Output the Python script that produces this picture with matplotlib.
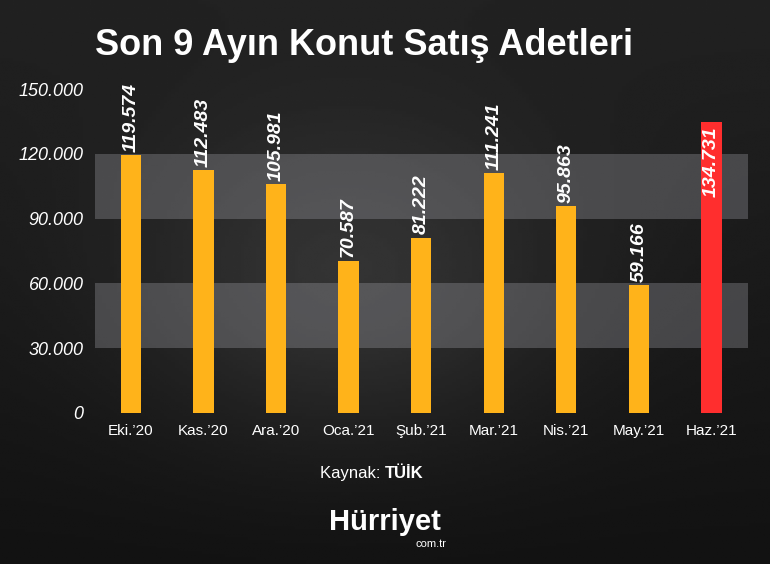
import matplotlib
matplotlib.use("Agg")
import matplotlib.pyplot as plt
import numpy as np

plt.rcParams['font.family'] = ['Liberation Sans', 'DejaVu Sans']

months = ["Eki.’20", "Kas.’20", "Ara.’20", "Oca.’21", "Şub.’21", "Mar.’21", "Nis.’21", "May.’21", "Haz.’21"]
values = [119574, 112483, 105981, 70587, 81222, 111241, 95863, 59166, 134731]
labels = ["119.574", "112.483", "105.981", "70.587", "81.222", "111.241", "95.863", "59.166", "134.731"]
yticks = [0, 30000, 60000, 90000, 120000, 150000]
yticklabels = ["0", "30.000", "60.000", "90.000", "120.000", "150.000"]

fig = plt.figure(figsize=(7.7, 5.64), dpi=100)
bg = fig.add_axes([0, 0, 1, 1])
xx, yy = np.meshgrid(np.linspace(0, 1, 200), np.linspace(0, 1, 200))
grad = 0.13 + 0.10 * np.exp(-((xx - 0.45) ** 2 + (yy - 0.5) ** 2) / 0.08) - 0.06 * yy
bg.imshow(grad, cmap="gray", vmin=0, vmax=1, extent=[0, 1, 0, 1], aspect="auto", origin="upper")
bg.axis("off")

ax = fig.add_axes([0.123, 0.268, 0.848, 0.574])
ax.patch.set_alpha(0)
x = np.arange(len(months))
ax.set_xlim(-0.5, 8.5)
ax.set_ylim(0, 150000)
for lo, hi in [(30000, 60000), (90000, 120000)]:
    ax.axhspan(lo, hi, color="#9a9aa0", alpha=0.35, lw=0, zorder=0)
colors = ["#FFB31A"] * 8 + ["#FF2E2E"]
ax.bar(x, values, width=0.28, color=colors, zorder=2)
for i, (xi, v, l) in enumerate(zip(x, values, labels)):
    inside = i == len(values) - 1
    ax.text(xi, v - 2000 if inside else v + 1500, l, rotation=90, ha="center",
            va="top" if inside else "bottom", color="white",
            fontsize=14, fontweight="bold", fontstyle="italic", zorder=3)
ax.set_xticks(x)
ax.set_xticklabels(months, color="white", fontsize=11)
ax.set_yticks(yticks)
ax.set_yticklabels(yticklabels, color="white", fontsize=13, fontstyle="italic")
ax.tick_params(length=0, pad=8)
for s in ax.spines.values():
    s.set_visible(False)

fig.text(0.123, 0.92, "Son 9 Ayın Konut Satış Adetleri", color="white", fontsize=26,
         fontweight="bold", ha="left", va="center")
fig.text(0.5, 0.16, "Kaynak: ", color="white", fontsize=12, ha="right", va="center")
fig.text(0.5, 0.16, "TÜİK", color="white", fontsize=12, fontweight="bold", ha="left", va="center")
fig.text(0.5, 0.075, "Hürriyet", color="white", fontsize=21, fontweight="bold", ha="center", va="center")
fig.text(0.56, 0.035, "com.tr", color="white", fontsize=8, ha="center", va="center")
fig.savefig("out.png", dpi=100)
